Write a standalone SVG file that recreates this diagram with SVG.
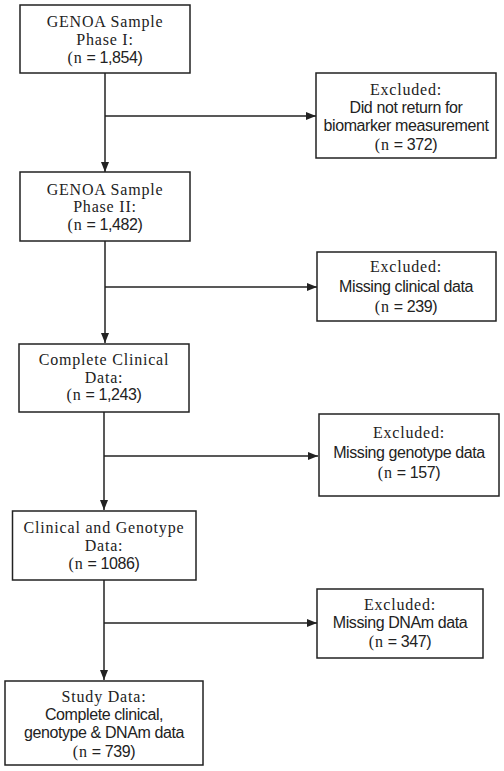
<svg xmlns="http://www.w3.org/2000/svg" width="504" height="771" viewBox="0 0 504 771">
<style>
.box{fill:#fff;stroke:#222;stroke-width:1.5}
.ser{font-family:"Liberation Serif","Times New Roman",serif;font-size:16px;letter-spacing:0.8px;fill:#222}
.san{font-family:"Liberation Sans",Arial,sans-serif;font-size:16px;letter-spacing:-0.4px;fill:#222}
text{text-anchor:middle}
.ln{stroke:#222;stroke-width:1.5;fill:none}
</style>
<defs>
<marker id="ah" markerUnits="userSpaceOnUse" markerWidth="10" markerHeight="10" viewBox="0 0 10 10" refX="10" refY="5" orient="auto">
<path d="M0,1 L10,5 L0,9 Z" fill="#222"/>
</marker>
</defs>
<rect width="504" height="771" fill="#fff"/>
<g id="connectors">
<line class="ln" x1="105" y1="73" x2="105" y2="172" marker-end="url(#ah)"/>
<line class="ln" x1="105" y1="116" x2="316" y2="116" marker-end="url(#ah)"/>
<line class="ln" x1="105" y1="241" x2="105" y2="343" marker-end="url(#ah)"/>
<line class="ln" x1="105" y1="287" x2="317" y2="287" marker-end="url(#ah)"/>
<line class="ln" x1="104" y1="412" x2="104" y2="510" marker-end="url(#ah)"/>
<line class="ln" x1="104" y1="456" x2="318" y2="456" marker-end="url(#ah)"/>
<line class="ln" x1="104" y1="580" x2="104" y2="680" marker-end="url(#ah)"/>
<line class="ln" x1="104" y1="623" x2="317" y2="623" marker-end="url(#ah)"/>
</g>
<g id="phase1">
<rect class="box" x="20" y="5" width="170" height="68"/>
<text class="ser" x="105" y="27">GENOA Sample</text>
<text class="ser" x="105" y="45">Phase I:</text>
<text x="105" y="63"><tspan class="ser">(n</tspan><tspan class="san"> = 1,854)</tspan></text>
</g>
<g id="excl1">
<rect class="box" x="316" y="73" width="180" height="85"/>
<text class="ser" x="406" y="95">Excluded:</text>
<text class="san" x="406" y="113">Did not return for</text>
<text class="san" x="406" y="131">biomarker measurement</text>
<text x="406" y="150"><tspan class="ser">(n</tspan><tspan class="san"> = 372)</tspan></text>
</g>
<g id="phase2">
<rect class="box" x="20" y="172" width="170" height="69"/>
<text class="ser" x="105" y="195">GENOA Sample</text>
<text class="ser" x="105" y="212">Phase II:</text>
<text x="105" y="230"><tspan class="ser">(n</tspan><tspan class="san"> = 1,482)</tspan></text>
</g>
<g id="excl2">
<rect class="box" x="317" y="252" width="179" height="69"/>
<text class="ser" x="406" y="272">Excluded:</text>
<text class="san" x="406" y="292">Missing clinical data</text>
<text x="406" y="312"><tspan class="ser">(n</tspan><tspan class="san"> = 239)</tspan></text>
</g>
<g id="clinical">
<rect class="box" x="19" y="344" width="170" height="68"/>
<text class="ser" x="104" y="365">Complete Clinical</text>
<text class="ser" x="104" y="383">Data:</text>
<text x="104" y="400"><tspan class="ser">(n</tspan><tspan class="san"> = 1,243)</tspan></text>
</g>
<g id="excl3">
<rect class="box" x="319" y="414" width="180" height="82"/>
<text class="ser" x="409" y="438">Excluded:</text>
<text class="san" x="409" y="458">Missing genotype data</text>
<text x="409" y="478"><tspan class="ser">(n</tspan><tspan class="san"> = 157)</tspan></text>
</g>
<g id="genotype">
<rect class="box" x="12.5" y="511" width="183.5" height="69"/>
<text class="ser" x="104" y="533">Clinical and Genotype</text>
<text class="ser" x="104" y="551">Data:</text>
<text x="104" y="569"><tspan class="ser">(n</tspan><tspan class="san"> = 1086)</tspan></text>
</g>
<g id="excl4">
<rect class="box" x="317" y="589" width="166" height="69"/>
<text class="ser" x="400" y="610">Excluded:</text>
<text class="san" x="400" y="628">Missing DNAm data</text>
<text x="400" y="647"><tspan class="ser">(n</tspan><tspan class="san"> = 347)</tspan></text>
</g>
<g id="study">
<rect class="box" x="5" y="681" width="198" height="84"/>
<text class="ser" x="104" y="702">Study Data:</text>
<text class="san" x="104" y="720">Complete clinical,</text>
<text class="san" x="104" y="738">genotype &amp; DNAm data</text>
<text x="104" y="757"><tspan class="ser">(n</tspan><tspan class="san"> = 739)</tspan></text>
</g>
</svg>
